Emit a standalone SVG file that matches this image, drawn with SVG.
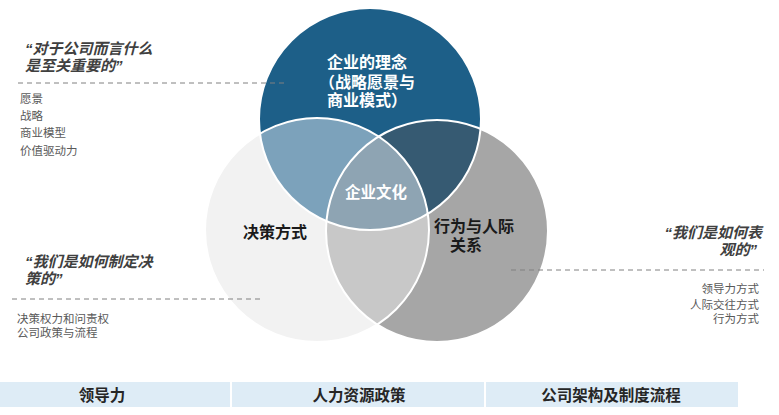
<svg xmlns="http://www.w3.org/2000/svg" width="779" height="415" viewBox="0 0 779 415">
<style>
.cj{font-family:"Liberation Sans","Noto Sans CJK SC",sans-serif}
.tl{font-size:15px;font-weight:bold;font-style:italic;fill:#404040}
.it{font-size:11.5px;fill:#595959}
.cw{font-size:16px;font-weight:bold;fill:#ffffff;text-anchor:middle}
.cb{font-size:16px;font-weight:bold;fill:#1a1a1a;text-anchor:middle}
.bt{font-size:15.5px;font-weight:bold;fill:#262626;text-anchor:middle}
.dash{stroke:#808080;stroke-width:1;stroke-dasharray:5 4;fill:none}
.ring{fill:none;stroke:#ffffff;stroke-width:2}
</style>
<defs>
<clipPath id="clipL"><circle cx="317" cy="230" r="112"/></clipPath>
<clipPath id="clipR"><circle cx="437" cy="231" r="111"/></clipPath>
</defs>
<rect width="779" height="415" fill="#ffffff"/>

<g id="venn">
<circle cx="317" cy="230" r="112" fill="#f2f2f2"/>
<circle cx="437" cy="231" r="111" fill="#a6a6a6"/>
<circle cx="370" cy="119" r="111" fill="#1d5f88"/>
<g clip-path="url(#clipL)"><circle cx="437" cy="231" r="111" fill="#c8c8c8"/></g>
<g clip-path="url(#clipL)"><circle cx="370" cy="119" r="111" fill="#7ca2bb"/></g>
<g clip-path="url(#clipR)"><circle cx="370" cy="119" r="111" fill="#365a72"/></g>
<g clip-path="url(#clipL)"><g clip-path="url(#clipR)"><circle cx="370" cy="119" r="111" fill="#8ea4b3"/></g></g>
<circle class="ring" cx="317" cy="230" r="112"/>
<circle class="ring" cx="437" cy="231" r="111"/>
<circle class="ring" cx="370" cy="119" r="111"/>
</g>

<g id="node-idea" class="cj">
<text class="cw" x="367" y="68">企业的理念</text>
<text class="cw" x="367" y="88">（战略愿景与</text>
<text class="cw" x="367" y="106">商业模式）</text>
</g>
<g id="node-culture" class="cj">
<text class="cw" x="376" y="198" style="font-size:15.5px">企业文化</text>
</g>
<g id="node-decision" class="cj">
<text class="cb" x="275" y="238">决策方式</text>
</g>
<g id="node-behavior" class="cj">
<text class="cb" x="474" y="232">行为与人际</text>
<text class="cb" x="466" y="251">关系</text>
</g>

<g id="connectors">
<line class="dash" x1="18" y1="83" x2="288" y2="83"/>
<line class="dash" x1="12" y1="299" x2="263" y2="299"/>
<line class="dash" x1="511" y1="270" x2="764" y2="270"/>
</g>

<g id="note-top-left" class="cj">
<text class="tl" x="25" y="54">“对于公司而言什么</text>
<text class="tl" x="25" y="71">是至关重要的”</text>
<text class="it" x="20" y="103">愿景</text>
<text class="it" x="20" y="120">战略</text>
<text class="it" x="20" y="137">商业模型</text>
<text class="it" x="20" y="155">价值驱动力</text>
</g>

<g id="note-bottom-left" class="cj">
<text class="tl" x="25" y="267">“我们是如何制定决</text>
<text class="tl" x="25" y="284">策的”</text>
<text class="it" x="17" y="323">决策权力和问责权</text>
<text class="it" x="17" y="337">公司政策与流程</text>
</g>

<g id="note-right" class="cj" text-anchor="end">
<text class="tl" x="762" y="238">“我们是如何表</text>
<text class="tl" x="757" y="255">观的”</text>
<text class="it" x="759" y="293">领导力方式</text>
<text class="it" x="759" y="309">人际交往方式</text>
<text class="it" x="759" y="323">行为方式</text>
</g>

<g id="bottom-bar" class="cj">
<rect x="0" y="382" width="230" height="25" fill="#deecf6"/>
<rect x="232" y="382" width="252" height="25" fill="#deecf6"/>
<rect x="486" y="382" width="252" height="25" fill="#deecf6"/>
<text class="bt" x="102" y="401">领导力</text>
<text class="bt" x="359" y="401">人力资源政策</text>
<text class="bt" x="611" y="401">公司架构及制度流程</text>
</g>
</svg>
